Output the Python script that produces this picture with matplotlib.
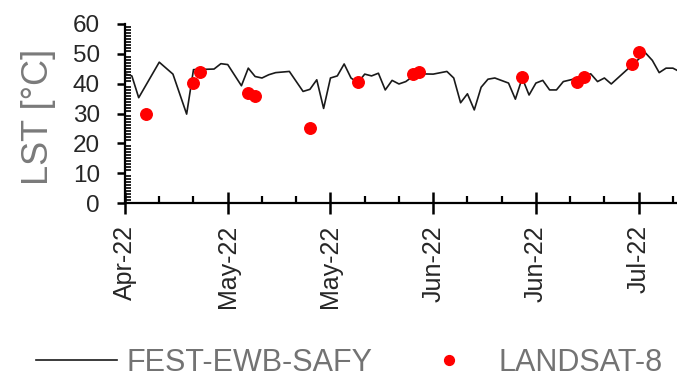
import matplotlib
matplotlib.use("Agg")
import matplotlib.pyplot as plt
import matplotlib.dates as mdates
from matplotlib.ticker import MultipleLocator
import pandas as pd

plt.rcParams["font.family"] = ["Liberation Sans", "DejaVu Sans"]

# FEST-EWB-SAFY modelled land surface temperature (°C)
model_dates = [
    "2022-04-20", "2022-04-21", "2022-04-22", "2022-04-25", "2022-04-27", "2022-04-29",
    "2022-04-30", "2022-05-03", "2022-05-04", "2022-05-05", "2022-05-07", "2022-05-08",
    "2022-05-09", "2022-05-10", "2022-05-11", "2022-05-12", "2022-05-14", "2022-05-16",
    "2022-05-17", "2022-05-18", "2022-05-19", "2022-05-20", "2022-05-21", "2022-05-22",
    "2022-05-23", "2022-05-24", "2022-05-25", "2022-05-26", "2022-05-27", "2022-05-28",
    "2022-05-29", "2022-05-30", "2022-05-31", "2022-06-01", "2022-06-02", "2022-06-04",
    "2022-06-06", "2022-06-07", "2022-06-08", "2022-06-09", "2022-06-10", "2022-06-11",
    "2022-06-12", "2022-06-13", "2022-06-15", "2022-06-16", "2022-06-17", "2022-06-18",
    "2022-06-19", "2022-06-20", "2022-06-21", "2022-06-22", "2022-06-23", "2022-06-25",
    "2022-06-27", "2022-06-28", "2022-06-29", "2022-06-30", "2022-07-05", "2022-07-06",
    "2022-07-07", "2022-07-08", "2022-07-09", "2022-07-10",
]
model_lst = [
    43.3, 42.6, 35.3, 47.2, 43.2, 29.8,
    44.7, 44.9, 46.7, 46.4, 39.3, 45.2,
    42.4, 41.9, 43.0, 43.7, 44.1, 37.4,
    38.1, 41.3, 31.7, 41.9, 42.6, 46.6,
    41.9, 40.3, 43.2, 42.6, 43.5, 37.9,
    41.1, 39.9, 40.7, 42.4, 43.3, 43.2,
    44.1, 41.9, 33.6, 36.6, 31.2, 38.8,
    41.5, 41.9, 40.2, 34.8, 41.9, 36.2,
    40.2, 41.1, 37.9, 37.9, 40.7, 41.8,
    43.3, 40.7, 41.9, 39.9, 50.3, 47.8,
    43.7, 45.2, 45.2, 44.0,
]

# LANDSAT-8 derived land surface temperature (°C)
landsat_dates = [
    "2022-04-23", "2022-04-30", "2022-05-01", "2022-05-08", "2022-05-09", "2022-05-17",
    "2022-05-24", "2022-06-01", "2022-06-02", "2022-06-17", "2022-06-25", "2022-06-26",
    "2022-07-03", "2022-07-04",
]
landsat_lst = [30.0, 40.2, 43.8, 37.0, 35.7, 25.2, 40.5, 43.3, 43.9, 42.1, 40.7, 42.1, 46.6, 50.7]

W, H = 677, 378
fig = plt.figure(figsize=(W / 100, H / 100), dpi=100)
ax = fig.add_axes([125 / W, 1 - 203 / H, (W - 125) / W, (203 - 24) / H])

md = pd.to_datetime(model_dates)
ld = pd.to_datetime(landsat_dates)

ax.plot(md, model_lst, color="#1a1a1a", lw=1.2, label="FEST-EWB-SAFY", zorder=2)
ax.plot(ld, landsat_lst, linestyle="none", marker="o", ms=8.3, mfc="#ff0000",
        mec="#ff0000", label="LANDSAT-8", zorder=3)

start = pd.Timestamp("2022-04-20")
ax.set_xlim(start, start + pd.Timedelta(days=80.6))
ax.set_ylim(0, 60)

major = pd.date_range(start, periods=6, freq="15D")
minor = pd.date_range(start, periods=17, freq="5D")
ax.set_xticks(major)
ax.set_xticks(minor, minor=True)
ax.xaxis.set_major_formatter(mdates.DateFormatter("%b-%y"))
ax.yaxis.set_major_locator(MultipleLocator(10))
ax.yaxis.set_minor_locator(MultipleLocator(1))

for s in ("top", "right"):
    ax.spines[s].set_visible(False)
for s in ("left", "bottom"):
    ax.spines[s].set_linewidth(1.6)
    ax.spines[s].set_color("black")

ax.tick_params(axis="x", which="major", direction="inout", length=16, width=1.8,
               labelsize=18, pad=8, labelrotation=90, labelcolor="#262626")
ax.tick_params(axis="x", which="minor", direction="in", length=5, width=1.6)
ax.tick_params(axis="y", which="major", direction="out", length=6, width=1.8,
               labelsize=17.5, pad=12, labelcolor="#262626")
ax.tick_params(axis="y", which="minor", direction="in", length=4, width=1.2)

ax.set_ylabel("LST [°C]", fontsize=26, color="#7a7a7a", ha="center", va="center")
ax.yaxis.set_label_coords((38 - 125) / (W - 125), 0.48)

fig.legend(loc="center left", bbox_to_anchor=(36 / W, 1 - 363 / H), ncol=2,
           frameon=False, fontsize=22, handlelength=2.65, handletextpad=0.3,
           columnspacing=1.18, borderpad=0, borderaxespad=0, numpoints=1,
           markerscale=0.85, labelcolor="#737373")

fig.savefig("out.png", dpi=100)
